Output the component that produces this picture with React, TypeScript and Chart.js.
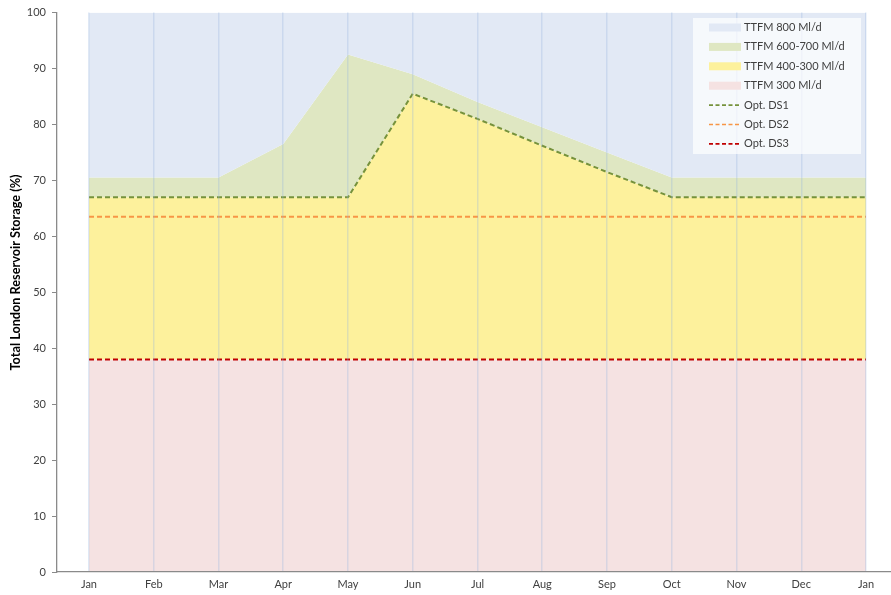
import React, { useEffect, useRef } from "react";
import { Chart, registerables } from "chart.js";

Chart.register(...registerables);

const months = ["Jan", "Feb", "Mar", "Apr", "May", "Jun", "Jul", "Aug", "Sep", "Oct", "Nov", "Dec", "Jan"];
const ttfm800 = [100, 100, 100, 100, 100, 100, 100, 100, 100, 100, 100, 100, 100];
const ttfm600700 = [70.5, 70.5, 70.5, 76.5, 92.5, 89, 84, 79.5, 75, 70.5, 70.5, 70.5, 70.5];
const ttfm400300 = [67, 67, 67, 67, 67, 85.5, 81, 76.2, 71.5, 67, 67, 67, 67];
const ttfm300 = [38, 38, 38, 38, 38, 38, 38, 38, 38, 38, 38, 38, 38];
const optDS1 = [67, 67, 67, 67, 67, 85.5, 81, 76.2, 71.5, 67, 67, 67, 67];
const optDS2 = [63.5, 63.5, 63.5, 63.5, 63.5, 63.5, 63.5, 63.5, 63.5, 63.5, 63.5, 63.5, 63.5];
const optDS3 = [38, 38, 38, 38, 38, 38, 38, 38, 38, 38, 38, 38, 38];
const yTicks = [0, 10, 20, 30, 40, 50, 60, 70, 80, 90, 100];
const yTitle = "Total London Reservoir Storage (%)";

const FONT = "Lato, 'Open Sans', sans-serif";

const pts = (arr: number[]) => arr.map((y, i) => ({ x: i, y }));

const legendPlugin = {
  id: "boxLegend",
  afterDraw(chart: any) {
    const ctx = chart.ctx;
    const x0 = 693, y0 = 18, w = 168, h = 136;
    ctx.save();
    ctx.fillStyle = "rgba(255,255,255,0.7)";
    ctx.fillRect(x0, y0, w, h);
    ctx.font = `11px ${FONT}`;
    ctx.textBaseline = "middle";
    const items = chart.data.datasets;
    items.forEach((ds: any, i: number) => {
      const cy = 27.5 + i * 19.4;
      if (ds.fill !== false) {
        ctx.fillStyle = ds.backgroundColor;
        ctx.fillRect(709, cy - 4, 32, 8);
      } else {
        ctx.strokeStyle = ds.borderColor;
        ctx.lineWidth = 1.6;
        ctx.setLineDash([4, 2.5]);
        ctx.beginPath();
        ctx.moveTo(709, cy);
        ctx.lineTo(741, cy);
        ctx.stroke();
        ctx.setLineDash([]);
      }
      ctx.fillStyle = "#404040";
      ctx.fillText(ds.label, 744, cy);
    });
    // y axis title
    ctx.translate(16, 272.5);
    ctx.rotate(-Math.PI / 2);
    ctx.font = `bold 12.7px ${FONT}`;
    ctx.textAlign = "center";
    ctx.textBaseline = "middle";
    ctx.fillStyle = "#000000";
    ctx.fillText(yTitle, 0, 0);
    ctx.restore();
  },
};

export default function App() {
  const ref = useRef<HTMLCanvasElement | null>(null);
  useEffect(() => {
    if (!ref.current) return;
    const areaBase = { pointRadius: 0, borderWidth: 0, tension: 0 };
    const lineBase = { pointRadius: 0, borderWidth: 2, borderDash: [5, 3], fill: false, tension: 0 };
    const chart = new Chart(ref.current, {
      type: "line",
      data: {
        datasets: [
          { ...areaBase, label: "TTFM 800 Ml/d", data: pts(ttfm800), backgroundColor: "#e2e9f5", borderColor: "#e2e9f5", fill: 1, order: 4 },
          { ...areaBase, label: "TTFM 600-700 Ml/d", data: pts(ttfm600700), backgroundColor: "#dfe7c2", borderColor: "#dfe7c2", fill: 2, order: 5 },
          { ...areaBase, label: "TTFM 400-300 Ml/d", data: pts(ttfm400300), backgroundColor: "#fdf19c", borderColor: "#fdf19c", fill: 3, order: 6 },
          { ...areaBase, label: "TTFM 300 Ml/d", data: pts(ttfm300), backgroundColor: "#f5e2e2", borderColor: "#f5e2e2", fill: "origin", order: 7 },
          { ...lineBase, label: "Opt. DS1", data: pts(optDS1), borderColor: "#76923c", backgroundColor: "#76923c", order: 1 },
          { ...lineBase, label: "Opt. DS2", data: pts(optDS2), borderColor: "#f79646", backgroundColor: "#f79646", order: 2 },
          { ...lineBase, label: "Opt. DS3", data: pts(optDS3), borderColor: "#c00000", backgroundColor: "#c00000", order: 3 },
        ],
      } as any,
      options: {
        animation: false,
        responsive: false,
        maintainAspectRatio: false,
        layout: { padding: { top: 7, right: 0, left: 0, bottom: 0 } },
        plugins: { legend: { display: false }, tooltip: { enabled: false } },
        scales: {
          x: {
            type: "linear",
            min: -0.494,
            max: 12.386,
            afterBuildTicks: (scale: any) => {
              scale.ticks = months.map((_, i) => ({ value: i }));
            },
            afterFit: (scale: any) => {
              scale.height = 23;
            },
            ticks: {
              autoSkip: false,
              maxRotation: 0,
              padding: 6,
              color: "#404040",
              font: { family: FONT, size: 11 },
              callback: (v: any) => months[Math.round(Number(v))] ?? "",
            },
            grid: { display: true, drawTicks: false, z: 1, color: "rgba(150,178,222,0.3)", lineWidth: 1.5 },
            border: { display: true, color: "#8a8a8a", width: 1.3, z: 2 },
          },
          y: {
            type: "linear",
            min: 0,
            max: 100,
            afterBuildTicks: (scale: any) => {
              scale.ticks = yTicks.map((v) => ({ value: v }));
            },
            afterFit: (scale: any) => {
              scale.width = 57;
            },
            ticks: {
              color: "#404040",
              padding: 6,
              font: { family: FONT, size: 11 },
            },
            grid: { display: true, drawOnChartArea: false, drawTicks: true, tickLength: 5, color: "#8a8a8a" },
            border: { display: true, color: "#8a8a8a", width: 1.3, z: 2 },
          },
        },
      } as any,
      plugins: [legendPlugin],
    });
    return () => chart.destroy();
  }, []);
  return (
    <div style={{ position: "fixed", left: 0, top: 0, width: 891, height: 595, background: "#fff" }}>
      <canvas ref={ref} width={891} height={595} style={{ width: 891, height: 595, display: "block" }} />
    </div>
  );
}
